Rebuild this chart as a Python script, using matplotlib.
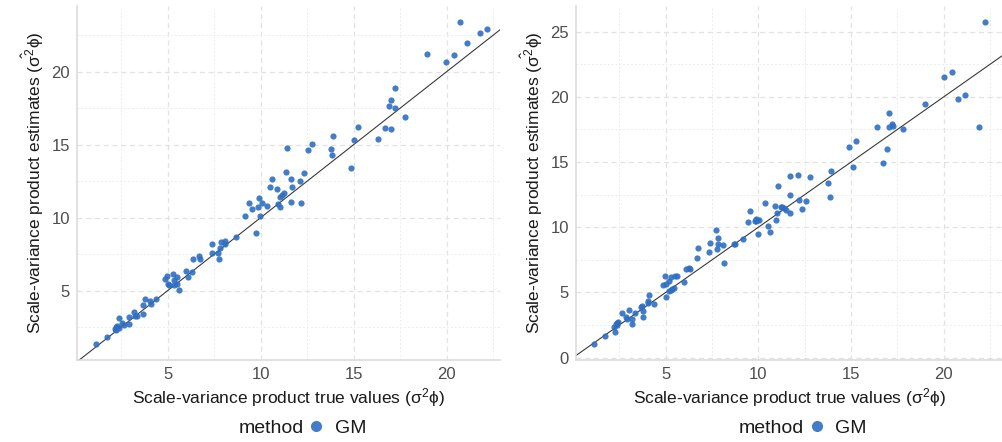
import matplotlib
matplotlib.use("Agg")
import matplotlib.pyplot as plt
from matplotlib.lines import Line2D
from matplotlib.ticker import MultipleLocator

plt.rcParams["font.family"] = ["Liberation Sans", "DejaVu Sans"]
plt.rcParams["mathtext.fontset"] = "custom"
plt.rcParams["mathtext.rm"] = "Liberation Sans"
plt.rcParams["mathtext.it"] = "Liberation Sans"
plt.rcParams["mathtext.bf"] = "Liberation Sans:bold"

# simulation 1: true scale-variance product vs GM estimate
true_a = [1.16, 1.74, 2.36, 2.15, 2.20, 2.25, 2.30, 2.40, 2.54, 2.63, 2.90,
          2.90, 3.17, 3.26, 3.35, 3.69, 3.65, 3.78, 4.03, 4.10, 4.35, 4.84,
          4.96, 5.00, 5.10, 5.28, 5.32, 5.50, 5.48, 5.36, 5.63, 5.97, 6.09,
          6.31, 6.34, 6.68, 6.74, 7.37, 7.37, 7.70, 7.74, 7.80, 7.87, 8.08,
          8.11, 8.66, 9.17, 9.40, 9.53, 9.75, 9.89, 9.87, 10.05, 9.96, 10.32,
          10.48, 10.59, 10.89, 11.04, 11.13, 11.25, 11.04, 10.91, 11.36, 11.43,
          11.65, 11.70, 11.65, 12.11, 12.15, 12.35, 12.56, 12.77, 13.76, 13.82,
          13.87, 14.85, 15.03, 15.23, 16.32, 16.70, 17.02, 16.88, 16.99, 17.20,
          17.22, 17.76, 18.94, 19.96, 20.41, 20.72, 21.08, 21.81, 22.17]
est_a = [1.35, 1.81, 3.11, 2.35, 2.50, 2.30, 2.60, 2.45, 2.77, 2.66, 2.72,
         3.18, 3.52, 3.29, 3.27, 3.38, 4.00, 4.41, 4.29, 4.07, 4.41, 5.80,
         6.03, 5.46, 5.40, 6.14, 5.73, 5.91, 5.46, 5.40, 5.05, 6.37, 5.96,
         6.30, 7.15, 7.40, 7.15, 8.22, 7.56, 7.56, 7.17, 7.90, 8.31, 8.42,
         8.20, 8.70, 10.12, 10.99, 10.57, 8.97, 11.35, 10.71, 10.99, 10.14, 10.80,
         12.12, 12.63, 11.96, 11.44, 11.53, 11.71, 10.71, 10.94, 13.11, 14.77,
         12.67, 12.08, 11.10, 12.49, 11.03, 13.04, 14.64, 15.03, 14.68, 14.27,
         15.62, 13.38, 15.30, 16.21, 15.37, 16.12, 16.05, 17.67, 18.04, 17.53,
         18.86, 16.88, 21.24, 20.64, 21.12, 23.38, 21.95, 22.63, 22.90]

# simulation 2
true_b = [1.15, 1.74, 2.20, 2.27, 2.30, 2.38, 2.45, 2.35, 2.64, 2.86, 2.90,
          3.02, 3.18, 3.18, 3.33, 3.67, 3.70, 3.78, 3.80, 4.03, 4.06, 4.12,
          4.35, 4.84, 4.96, 5.04, 5.04, 5.20, 5.28, 5.20, 5.28, 5.37, 5.45,
          5.48, 5.64, 5.97, 6.10, 6.26, 6.33, 6.69, 6.75, 7.36, 7.38, 7.74,
          7.77, 7.84, 7.82, 8.08, 8.15, 8.69, 8.72, 9.19, 9.43, 9.55, 9.80,
          9.90, 9.95, 10.05, 9.87, 9.98, 10.36, 10.51, 10.63, 10.94, 10.92,
          11.08, 11.03, 11.20, 11.30, 11.40, 11.48, 11.71, 11.71, 11.73, 12.14,
          12.20, 12.38, 12.57, 12.79, 13.78, 13.85, 13.90, 14.89, 15.09, 15.25,
          16.39, 16.75, 16.93, 17.04, 17.07, 17.20, 17.25, 17.79, 19.00, 20.02,
          20.47, 20.78, 21.14, 21.89, 22.23]
est_b = [1.05, 1.69, 2.38, 1.99, 2.55, 2.65, 2.75, 2.50, 3.40, 3.14, 2.95,
         3.66, 2.99, 2.61, 3.45, 3.91, 4.00, 3.14, 3.58, 4.35, 4.22, 4.81,
         4.12, 5.58, 6.27, 5.65, 4.63, 5.90, 6.20, 5.12, 5.20, 5.30, 5.38,
         6.23, 6.30, 5.78, 6.78, 6.90, 6.78, 7.62, 8.44, 8.13, 8.80, 9.77,
         8.31, 9.15, 8.74, 8.64, 7.29, 8.70, 8.68, 9.08, 10.40, 11.27, 10.50,
         10.62, 10.55, 10.55, 10.45, 9.46, 11.84, 10.12, 9.66, 10.56, 11.66,
         13.17, 11.07, 11.58, 11.55, 11.50, 11.33, 13.93, 12.48, 11.12, 14.01,
         12.12, 11.40, 12.02, 13.88, 13.42, 12.35, 14.32, 16.13, 14.62, 16.64,
         17.71, 14.95, 15.98, 18.79, 17.70, 17.90, 17.75, 17.52, 19.43, 21.55,
         21.91, 19.84, 20.12, 17.67, 25.72]

panels = [
    (true_a, est_a, (0.13, 22.87), (0.25, 24.5)),
    (true_b, est_b, (0.15, 23.2), (-0.18, 26.97)),
]
axes_pos = [
    [0.0768, 0.1855, 0.4217, 0.8009],
    [0.5740, 0.1855, 0.4260, 0.8009],
]

point_color = "#2E6EC2"
x_title = r"Scale-variance product true values ($\sigma^2\phi$)"
y_title = r"Scale-variance product estimates ($\hat{\sigma^2}\phi$)"

fig = plt.figure(figsize=(10.03, 4.42), dpi=100)

for (tx, ey, xlim, ylim), pos in zip(panels, axes_pos):
    ax = fig.add_axes(pos)
    ax.set_axisbelow(True)

    ax.scatter(tx, ey, s=20, color=point_color, alpha=0.9, linewidths=0, zorder=3)
    ax.axline((0, 0), slope=1, color="#3A3A3A", linewidth=0.8, zorder=2)

    ax.set_xlim(*xlim)
    ax.set_ylim(*ylim)
    ax.xaxis.set_major_locator(MultipleLocator(5))
    ax.yaxis.set_major_locator(MultipleLocator(5))
    ax.xaxis.set_minor_locator(MultipleLocator(2.5))
    ax.yaxis.set_minor_locator(MultipleLocator(2.5))

    ax.grid(which="major", color="#E2E2E2", linewidth=0.9, linestyle=(0, (4, 3)))
    ax.grid(which="minor", color="#EDEDED", linewidth=0.7, linestyle=(0, (2, 2)))

    for side in ("top", "right"):
        ax.spines[side].set_visible(False)
    for side in ("left", "bottom"):
        ax.spines[side].set_color("#D9D9D9")
        ax.spines[side].set_linewidth(1.1)

    ax.tick_params(which="both", length=0, labelsize=12, labelcolor="#4D4D4D", pad=5)

    ax.set_xlabel(x_title, fontsize=12.5, color="#1A1A1A")
    ax.set_ylabel(y_title, fontsize=12.5, color="#1A1A1A")
    ax.xaxis.label.set_va("center")
    ax.yaxis.label.set_va("center")
    ax.xaxis.set_label_coords(0.5, -0.107)
    ax.yaxis.set_label_coords(-44 / (pos[2] * 1003), 0.5)

    handles = [
        Line2D([], [], linestyle="none"),
        Line2D([], [], marker="o", linestyle="none", markersize=8,
               markerfacecolor=point_color, markeredgewidth=0, alpha=0.9),
    ]
    ax.legend(handles, ["method", "GM"], ncol=2, loc="center",
              bbox_to_anchor=(0.5, -0.192), frameon=False, fontsize=14,
              handlelength=0.9, handletextpad=0.5, columnspacing=0.2,
              labelcolor="#1A1A1A")

fig.savefig("out.png", dpi=100)
